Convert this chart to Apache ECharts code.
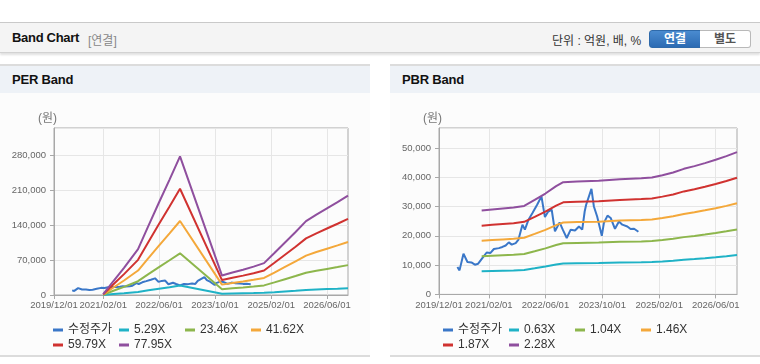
<!DOCTYPE html>
<html><head><meta charset="utf-8">
<script src="https://cdn.jsdelivr.net/npm/echarts@6/dist/echarts.min.js"></script>
<style>
html,body{margin:0;padding:0;background:#fff;}
body{width:760px;height:364px;position:relative;overflow:hidden;font-family:'Liberation Sans',Arial,'Noto Sans CJK KR',sans-serif;}
#hdr{position:absolute;left:0;top:22px;width:760px;height:29px;background:#f4f4f4;border-top:1px solid #c9c9c9;border-bottom:1px solid #d2d2d2;box-shadow:0 2px 2px rgba(0,0,0,0.12);}
#hdr .t{position:absolute;left:12px;top:7px;font-size:13px;font-weight:bold;color:#111;letter-spacing:-0.3px;}
#hdr .s{position:absolute;left:88px;top:8px;font-size:12px;color:#888;}
#hdr .u{position:absolute;left:552px;top:8px;font-size:12px;color:#333;}
.btn{position:absolute;top:7px;height:16px;line-height:16px;font-size:12px;font-weight:bold;text-align:center;border:1px solid #b9b9b9;}
#b1{left:649px;width:50px;background:linear-gradient(#4a8bd0,#2c6bb3);color:#fff;border-color:#2f6aaa;border-radius:3px 0 0 3px;}
#b2{left:700px;width:50px;background:#fff;color:#555;border-left:none;border-radius:0 3px 3px 0;}
.panel{position:absolute;top:64px;width:370px;height:289px;background:#fcfcfc;border-top:2px solid #dcdcdc;border-bottom:2px solid #dcdcdc;}
.panel .ph{position:absolute;left:0;top:0;width:370px;height:27px;background:#eef2f7;}
.panel .ph span{position:absolute;left:12px;top:6px;font-size:13px;font-weight:bold;color:#111;letter-spacing:-0.2px;}
.chart{position:absolute;top:93px;width:370px;height:261px;}
</style></head>
<body>
<div id="hdr"><span class="t">Band Chart</span><span class="s">[연결]</span><span class="u">단위 : 억원, 배, %</span>
<div class="btn" id="b1">연결</div><div class="btn" id="b2">별도</div></div>
<div class="panel" style="left:0"><div class="ph"><span>PER Band</span></div></div>
<div class="panel" style="left:390px"><div class="ph"><span>PBR Band</span></div></div>
<div class="chart" id="per" style="left:0"></div>
<div class="chart" id="pbr" style="left:390px"></div>
<script>
// ---- data ----
const xTickLabels = ['2019/12/01','2021/02/01','2022/06/01','2023/10/01','2025/02/01','2026/06/01'];
const xMin = '2019/12/01', xMax = '2026/12/01';

const priceName = '수정주가';
const priceDates = ['2020/05/07','2020/05/25','2020/06/28','2020/08/01','2020/09/04','2020/10/04','2020/11/01','2020/12/07','2021/01/13','2021/02/13','2021/03/16','2021/04/28','2021/05/28','2021/06/25','2021/07/22','2021/08/16','2021/09/19','2021/10/13','2021/11/16','2021/12/07','2022/01/07','2022/02/10','2022/03/22','2022/04/28','2022/05/28','2022/06/25','2022/07/25','2022/08/22','2022/10/01','2022/10/28','2022/12/01','2023/01/04','2023/02/10','2023/03/16','2023/04/13','2023/05/04','2023/05/16','2023/07/01','2023/07/22','2023/08/19','2023/09/28','2023/10/16','2023/11/16','2023/12/13','2024/01/19','2024/02/22','2024/03/22','2024/05/04','2024/06/01','2024/07/01','2024/08/07'];
const priceValues = [9350,8200,13900,11060,10900,10140,10480,12400,14300,14100,15500,15800,16200,16700,17750,17000,17500,18700,23800,22100,25500,27800,30600,33450,26400,28300,28900,21500,24600,22100,19250,22100,21800,23200,22100,28300,30500,36000,30000,26600,20000,24400,26900,26100,22400,24900,23800,23200,22300,22400,21400];

const perBandNames = ['5.29X','23.46X','41.62X','59.79X','77.95X'];
const perBandDates = ['2021/02/01','2021/05/01','2021/08/01','2021/12/01','2022/03/01','2022/06/01','2022/09/01','2022/12/01','2023/12/01','2024/03/01','2024/06/01','2024/09/01','2024/12/01','2025/03/01','2025/06/01','2025/09/01','2025/12/01','2026/03/01','2026/06/01','2026/09/01','2026/12/01'];
const per529  = [106,1904,3703,6242,9416,12590,15711,18864,2645,3068,3439,3862,4338,5713,7142,8570,10051,10950,11797,12643,13516];
const per2346 = [469,8446,16422,27683,41759,55835,69676,83658,11730,13607,15249,17126,19237,25337,31671,38005,44574,48562,52316,56069,59940];
const per4162 = [832,14983,29134,49112,74084,99056,123611,148417,20810,24140,27053,30383,34128,44950,56187,67424,79078,86153,92813,99472,106339];
const per5979 = [1196,21524,41853,70552,106426,142300,177576,213211,29895,34678,38864,43647,49028,64573,80717,96860,113601,123765,133332,142898,152763];
const per7795 = [1559,28062,54565,91981,138751,185521,231512,277970,38975,45211,50668,56904,63919,84186,105233,126279,148105,161357,173829,186301,199162];

const pbrBandNames = ['0.63X','1.04X','1.46X','1.87X','2.28X'];
const pbrBandDates = ['2020/12/01','2021/03/01','2021/06/01','2021/09/01','2021/12/01','2022/03/01','2022/06/01','2022/09/01','2022/11/01','2023/03/01','2023/09/01','2024/03/01','2024/09/01','2024/12/01','2025/03/01','2025/06/01','2025/09/01','2025/12/01','2026/03/01','2026/06/01','2026/09/01','2026/12/01'];
const pbr063 = [7907,8001,8096,8190,8348,8915,9513,10206,10584,10647,10710,10868,10962,11025,11246,11498,11844,12096,12380,12695,13041,13419];
const pbr104 = [13052,13208,13364,13520,13780,14716,15704,16848,17472,17576,17680,17940,18096,18200,18564,18980,19552,19968,20436,20956,21528,22152];
const pbr146 = [18323,18542,18761,18980,19345,20659,22046,23652,24528,24674,24820,25185,25404,25550,26061,26645,27448,28032,28689,29419,30222,31098];
const pbr187 = [23469,23749,24030,24310,24778,26461,28237,30294,31416,31603,31790,32258,32538,32725,33380,34128,35156,35904,36746,37681,38709,39831];
const pbr228 = [28614,28956,29298,29640,30210,32262,34428,36936,38304,38532,38760,39330,39672,39900,40698,41610,42864,43776,44802,45942,47196,48564];

const colors = ['#3a77c8','#1fb2c6','#8db64c','#f4a83a','#d03230','#8f4f9e'];
// ---- helpers ----
const FONT = "'Liberation Sans',Arial,'Noto Sans CJK KR',sans-serif";
function ts(s){const p=s.split('/').map(Number);return Date.UTC(p[0],p[1]-1,p[2]);}
const tickVals = xTickLabels.map(ts);
function pairs(d,v){return d.map((x,i)=>[ts(x),v[i]]);}
function fmtX(v){let best=0,bd=Infinity;tickVals.forEach((t,i)=>{const dd=Math.abs(t-v);if(dd<bd){bd=dd;best=i;}});return xTickLabels[best];}

function legendCfg(data,left,top){
  return {data:data,left:left,top:top,padding:0,orient:'horizontal',icon:'rect',itemWidth:10,itemHeight:3,itemGap:4,
    textStyle:{fontSize:12,color:'#333',width:47,lineHeight:11,overflow:'truncate',fontFamily:FONT},selectedMode:false};
}
function build(el, bandNames, bandDates, bands, yMax, yInt, gridLeft, gridW, gridH){
  const names=[priceName].concat(bandNames);
  const series=[{name:priceName,type:'line',data:pairs(priceDates,priceValues)}]
    .concat(bands.map((b,i)=>({name:bandNames[i],type:'line',data:pairs(bandDates,b)})));
  series.forEach((s,i)=>{s.symbol='none';s.color=colors[i];s.lineStyle={width:2,color:colors[i]};s.emphasis={disabled:true};s.silent=true;});
  const ch=echarts.init(document.getElementById(el),null,{renderer:'canvas'});
  ch.setOption({
    animation:false,
    backgroundColor:'transparent',
    grid:{left:gridLeft,top:35,width:gridW,height:gridH,show:true,borderColor:'#a8a8a8',borderWidth:1,containLabel:false,outerBoundsMode:'none'},
    graphic:[{type:'text',left:gridLeft-16,top:20,style:{text:'(원)',fontSize:12,fill:'#777',fontFamily:FONT}}],
    legend:[legendCfg(names.slice(0,4),53,231),legendCfg(names.slice(4),53,246)],
    xAxis:{type:'value',min:ts(xMin),max:ts(xMax),
      axisLine:{lineStyle:{color:'#a8a8a8'}},
      axisTick:{show:true,length:4,customValues:tickVals,lineStyle:{color:'#a8a8a8'}},
      axisLabel:{customValues:tickVals,formatter:fmtX,color:'#666',fontSize:9.5,margin:6,fontFamily:FONT,showMinLabel:true,showMaxLabel:true,hideOverlap:false},
      splitLine:{show:true,lineStyle:{color:'#e6e6e6'}}},
    yAxis:{type:'value',min:0,max:yMax,interval:yInt,
      axisLine:{show:true,lineStyle:{color:'#a8a8a8'}},
      axisTick:{show:true,length:4,lineStyle:{color:'#a8a8a8'}},
      axisLabel:{color:'#666',fontSize:9.5,margin:8,showMaxLabel:false,fontFamily:FONT,
        formatter:v=>(v%yInt===0?v.toLocaleString('en-US'):'')},
      splitLine:{show:true,lineStyle:{color:'#e6e6e6'}}},
    series:series
  });
}
build('per',perBandNames,perBandDates,[per529,per2346,per4162,per5979,per7795],335000,70000,54,294,167);
build('pbr',pbrBandNames,pbrBandDates,[pbr063,pbr104,pbr146,pbr187,pbr228],56800,10000,49,298,166.4);
</script>
</body></html>
